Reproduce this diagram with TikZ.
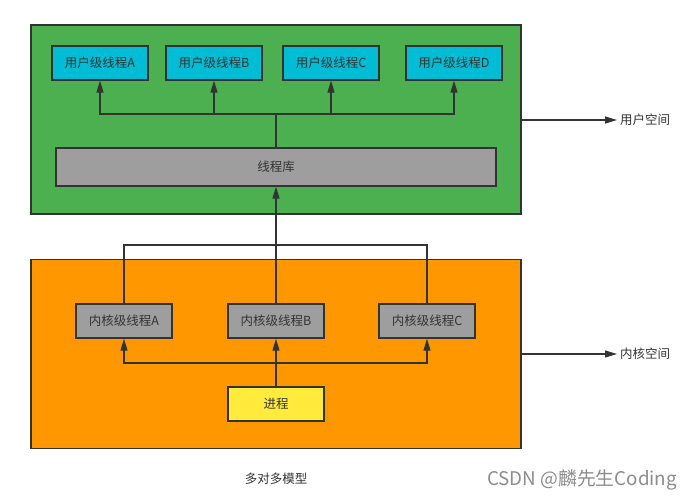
\documentclass[tikz,border=0pt]{standalone}
\usepackage{fontspec}
\setmainfont{Noto Sans CJK SC}
\usetikzlibrary{arrows.meta}

\definecolor{spaceGreen}{HTML}{4CAF50}
\definecolor{spaceOrange}{HTML}{FF9800}
\definecolor{threadBlue}{HTML}{00BCD4}
\definecolor{libGray}{HTML}{9E9E9E}
\definecolor{procYellow}{HTML}{FFEB3B}
\definecolor{lineGray}{HTML}{333333}

\begin{document}
\begin{tikzpicture}[x=1pt,y=-1pt,
    box/.style={draw=lineGray,line width=1.3pt,inner sep=0pt,
        font=\fontsize{12.5}{14}\selectfont,text=black!80},
    thread/.style={box,minimum width=96pt,minimum height=34pt},
    link/.style={draw=lineGray,line width=1.2pt},
    arr/.style={link,-{Triangle[length=12pt,width=7pt]}},
    lbl/.style={font=\fontsize{12.5}{14}\selectfont,text=black!80,inner sep=3pt}]

    \useasboundingbox (0,0) rectangle (693,499);

    % spaces
    \node[box,fill=spaceGreen,minimum width=490pt,minimum height=189pt]
        (userSpace) at (276,119.5) {};
    \node[box,fill=spaceOrange,minimum width=490pt,minimum height=189pt]
        (kernelSpace) at (276,354) {};

    % user level
    \node[thread,fill=threadBlue] (uA) at (100,63) {用户级线程A};
    \node[thread,fill=threadBlue] (uB) at (214,63) {用户级线程B};
    \node[thread,fill=threadBlue] (uC) at (331,63) {用户级线程C};
    \node[thread,fill=threadBlue] (uD) at (454,63) {用户级线程D};
    \node[box,fill=libGray,minimum width=440pt,minimum height=38pt]
        (lib) at (276,167) {线程库};

    % kernel level
    \node[thread,fill=libGray] (kA) at (124,321) {内核级线程A};
    \node[thread,fill=libGray] (kB) at (276,321) {内核级线程B};
    \node[thread,fill=libGray] (kC) at (427,321) {内核级线程C};
    \node[thread,fill=procYellow] (proc) at (276,404) {进程};

    \coordinate (uBus) at (276,114);
    \coordinate (kBus) at (276,363);
    \coordinate (kTop) at (276,245);

    \draw[link] (lib) -- (uBus);
    \foreach \t in {uA,uB,uC,uD}
        \draw[arr] (uBus) -| (\t);

    \draw[arr] (proc) -- (kB);
    \foreach \t in {kA,kC}
        \draw[arr] (kBus) -| (\t);
    \draw[link] (kA) |- (kTop) -| (kC);
    \draw[arr] (kB) -- (lib);

    % side labels
    \node[lbl,anchor=west] (uLbl) at (617,120) {用户空间};
    \node[lbl,anchor=west] (kLbl) at (617,354) {内核空间};
    \draw[arr] (userSpace.east |- uLbl) -- (uLbl.west);
    \draw[arr] (kernelSpace.east |- kLbl) -- (kLbl.west);

    \node[lbl] (caption) at (276,479) {多对多模型};
    \node[font=\fontsize{18.8}{21}\selectfont,text=black!45] (mark) at (582,480)
        {CSDN @麟先生Coding};

\end{tikzpicture}
\end{document}
